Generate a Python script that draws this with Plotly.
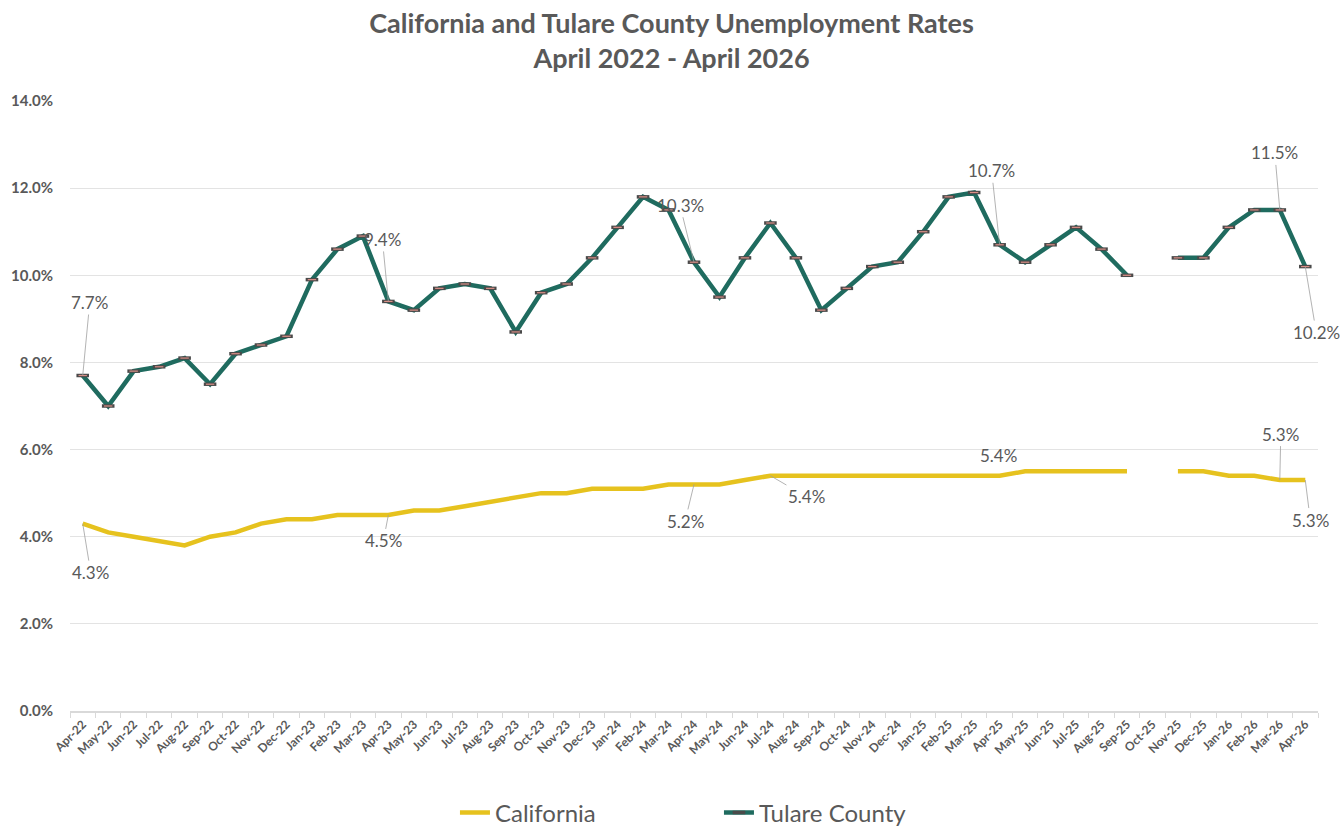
import plotly.graph_objects as go

months = ["Apr-22","May-22","Jun-22","Jul-22","Aug-22","Sep-22","Oct-22","Nov-22","Dec-22",
          "Jan-23","Feb-23","Mar-23","Apr-23","May-23","Jun-23","Jul-23","Aug-23","Sep-23","Oct-23","Nov-23","Dec-23",
          "Jan-24","Feb-24","Mar-24","Apr-24","May-24","Jun-24","Jul-24","Aug-24","Sep-24","Oct-24","Nov-24","Dec-24",
          "Jan-25","Feb-25","Mar-25","Apr-25","May-25","Jun-25","Jul-25","Aug-25","Sep-25","Oct-25","Nov-25","Dec-25",
          "Jan-26","Feb-26","Mar-26","Apr-26"]

california = [4.3,4.1,4.0,3.9,3.8,4.0,4.1,4.3,4.4,
              4.4,4.5,4.5,4.5,4.6,4.6,4.7,4.8,4.9,5.0,5.0,5.1,
              5.1,5.1,5.2,5.2,5.2,5.3,5.4,5.4,5.4,5.4,5.4,5.4,
              5.4,5.4,5.4,5.4,5.5,5.5,5.5,5.5,5.5,None,5.5,5.5,
              5.4,5.4,5.3,5.3]

tulare = [7.7,7.0,7.8,7.9,8.1,7.5,8.2,8.4,8.6,
          9.9,10.6,10.9,9.4,9.2,9.7,9.8,9.7,8.7,9.6,9.8,10.4,
          11.1,11.8,11.5,10.3,9.5,10.4,11.2,10.4,9.2,9.7,10.2,10.3,
          11.0,11.8,11.9,10.7,10.3,10.7,11.1,10.6,10.0,None,10.4,10.4,
          11.1,11.5,11.5,10.2]

y_ticks = [0, 2, 4, 6, 8, 10, 12, 14]

# labelled points: (month, text offset dx, dy)
tulare_labels = [("Apr-22", 7, -73), ("Apr-23", -6, -62), ("Apr-24", -14, -57),
                 ("Apr-25", -8, -74), ("Mar-26", -5, -57), ("Apr-26", 11, 66)]
ca_labels = [("Apr-22", 8, 49), ("Apr-23", -5, 26), ("Apr-24", -9, 37),
             ("Jul-24", 36, 21), ("Mar-26", 1, -46), ("Apr-26", 5, 40)]
ca_plain_labels = [("Apr-25", -1, 20)]

CA_COLOR = "#E6C21E"
TU_COLOR = "#1F6B5F"
GRAY = "#595959"
FONT = "Lato"

fig = go.Figure()
fig.add_trace(go.Scatter(x=months, y=california, name="California", mode="lines",
                         line=dict(color=CA_COLOR, width=4.5), connectgaps=False))
fig.add_trace(go.Scatter(x=months, y=tulare, name="Tulare County", mode="lines+markers",
                         line=dict(color=TU_COLOR, width=4.5), connectgaps=False,
                         marker=dict(symbol="line-ew", size=9, line=dict(width=3.5, color="#4a4a4a"))))
fig.add_trace(go.Scatter(x=months, y=tulare, mode="markers", showlegend=False, hoverinfo="skip",
                         marker=dict(symbol="line-ew", size=6, line=dict(width=1.2, color="#d98f86"))))

annos = []
def add_label(series, m, dx, dy, arrow=True):
    v = series[months.index(m)]
    d = dict(x=m, y=v, text=f"{v:.1f}%", font=dict(family=FONT, size=17, color=GRAY))
    if arrow:
        d.update(showarrow=True, arrowhead=0, arrowwidth=0.8, arrowcolor="#a0a0a0",
                 ax=dx, ay=dy, standoff=0)
    else:
        d.update(showarrow=False, xshift=dx, yshift=dy)
    annos.append(d)

for m, dx, dy in tulare_labels:
    add_label(tulare, m, dx, dy)
for m, dx, dy in ca_labels:
    add_label(california, m, dx, dy)
for m, dx, dy in ca_plain_labels:
    add_label(california, m, dx, dy, arrow=False)

fig.update_layout(
    width=1343, height=827,
    paper_bgcolor="white", plot_bgcolor="white",
    margin=dict(l=70, r=25, t=101, b=116),
    title=dict(text="<b>California and Tulare County Unemployment Rates<br>April 2022 - April 2026</b>",
               x=0.5, xanchor="center", yref="container", y=0.960, yanchor="top",
               font=dict(family=FONT, size=27, color=GRAY)),
    font=dict(family=FONT, color=GRAY),
    showlegend=True,
    legend=dict(orientation="h", x=0.520, xanchor="center", yref="container", y=0.017, yanchor="middle",
                font=dict(family=FONT, size=24, color=GRAY), entrywidth=219, entrywidthmode="pixels",
                itemwidth=30),
    annotations=annos,
)
fig.update_xaxes(type="category", categoryorder="array", categoryarray=months,
                 range=[-0.5, len(months) - 0.5], tickangle=-45, automargin=False,
                 tickfont=dict(family=FONT, size=12, color=GRAY, weight="bold"),
                 showgrid=False, showline=True, linecolor="#d9d9d9", linewidth=1.5,
                 ticks="outside", ticklen=5, tickcolor="#d9d9d9", tickson="boundaries")
fig.update_yaxes(range=[0, 14], tickvals=y_ticks, ticktext=[f"{v:.1f}%" for v in y_ticks],
                 tickfont=dict(family=FONT, size=15, color=GRAY, weight="bold"), automargin=False,
                 showgrid=True, gridcolor="#e3e3e3", gridwidth=1, zeroline=False,
                 showline=False, ticklabelstandoff=16)

fig.write_html("out.html", config={"displayModeBar": False},
               post_script="document.body.style.margin='0';")
